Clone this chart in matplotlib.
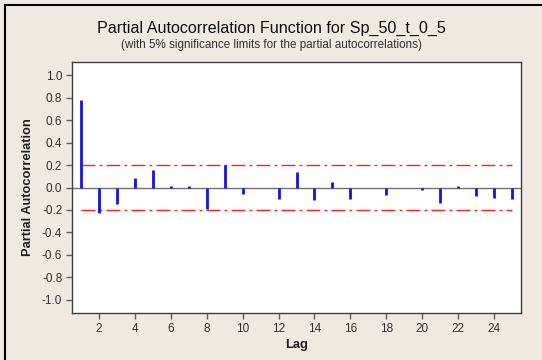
import numpy as np
import matplotlib
matplotlib.use("Agg")
import matplotlib.pyplot as plt
from matplotlib.lines import Line2D

plt.rcParams['font.family'] = ['Liberation Sans', 'DejaVu Sans']
plt.rcParams['axes.unicode_minus'] = False

# PACF values
lags = list(range(1, 26))
pacf = [0.78, -0.228, -0.145, 0.085, 0.16, 0.01, 0.01, -0.19, 0.198, -0.06,
        -0.003, -0.10, 0.135, -0.11, 0.047, -0.10, 0.0, -0.07, 0.0, -0.02,
        -0.14, 0.01, -0.08, -0.095, -0.10]
sig_limit = 0.2
y_ticks = [-1.0, -0.8, -0.6, -0.4, -0.2, 0.0, 0.2, 0.4, 0.6, 0.8, 1.0]
x_ticks = list(range(2, 25, 2))

bg = '#EEEAE1'
fig = plt.figure(figsize=(5.42, 3.6), dpi=100, facecolor=bg)
ax = fig.add_axes([72 / 542, 1 - 313 / 360, (521 - 72) / 542, (313 - 62) / 360])
ax.set_facecolor('white')

# zero line
ax.axhline(0, color='#707070', lw=1.0, zorder=1)

# significance limits
for s in (sig_limit, -sig_limit):
    ax.plot([lags[0], lags[-1]], [s, s], color='#FF2020', lw=1.0,
            dashes=[10, 3, 2, 3], zorder=2)

ax.vlines(lags, 0, pacf, color='#1010FF', lw=2.0, zorder=3)

ax.set_xlim(0.5, 25.5)
ax.set_ylim(-1.12, 1.12)
ax.set_xticks(x_ticks)
ax.set_yticks(y_ticks)
ax.set_yticklabels([f'{v:.1f}' for v in y_ticks])
ax.tick_params(direction='out', length=4, width=1, color='#606060',
               labelsize=8.5, labelcolor='#303030', pad=3)
for sp in ax.spines.values():
    sp.set_color('#404040')
    sp.set_linewidth(1.0)

ax.set_xlabel('Lag', fontsize=9.3, fontweight='bold', color='#202020', labelpad=3)
ax.set_ylabel('Partial Autocorrelation', fontsize=9.3, fontweight='bold',
              color='#202020', va='center')
ax.yaxis.set_label_coords(-0.098, 0.5)

fig.text(0.5, 1 - 28 / 360, 'Partial Autocorrelation Function for Sp_50_t_0_5',
         ha='center', va='center', fontsize=11.6, color='#111111')
fig.text(0.5, 1 - 45 / 360,
         '(with 5% significance limits for the partial autocorrelations)',
         ha='center', va='center', fontsize=8.4, color='#303030')

# window border (top and left)
fig.add_artist(Line2D([4.5 / 542, 1], [1 - 4.5 / 360, 1 - 4.5 / 360],
                      transform=fig.transFigure, color='black', lw=1.5))
fig.add_artist(Line2D([4.5 / 542, 4.5 / 542], [0, 1 - 4.5 / 360],
                      transform=fig.transFigure, color='black', lw=1.5))

fig.savefig('out.png', dpi=100, facecolor=bg)
